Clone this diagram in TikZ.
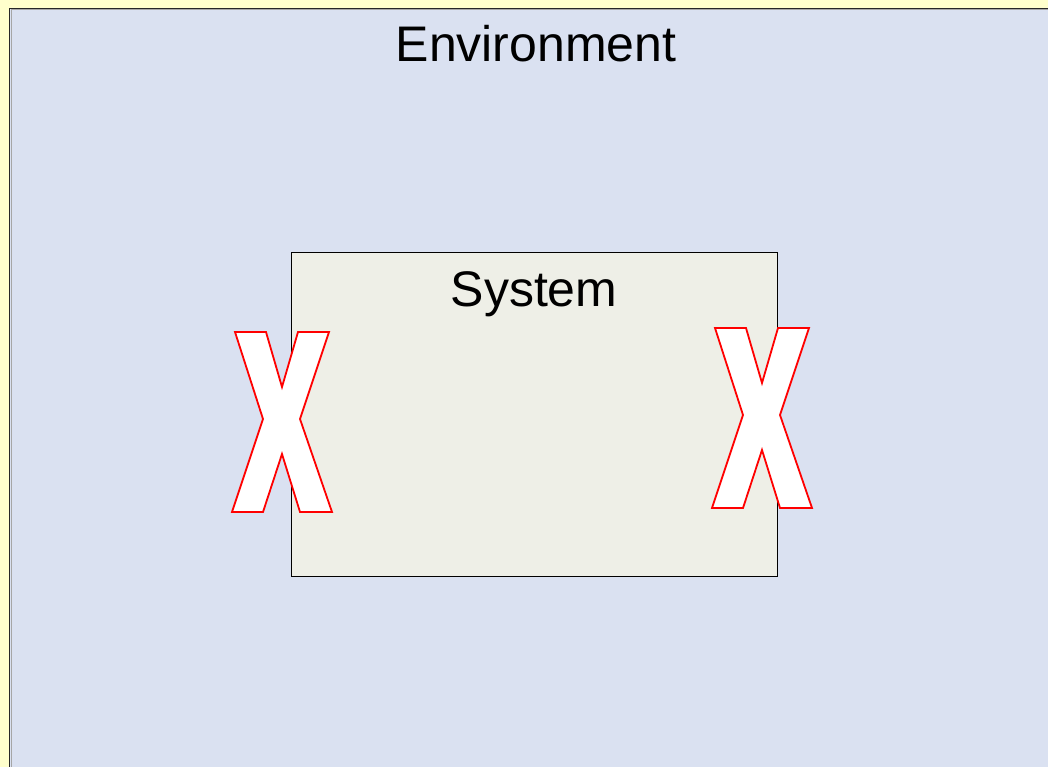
\documentclass[tikz,border=0pt]{standalone}
\usepackage{fontspec}
\setmainfont{Liberation Sans}
\definecolor{bgyellow}{RGB}{255,255,204}
\definecolor{envfill}{RGB}{218,225,241}
\definecolor{sysfill}{RGB}{238,239,231}
\tikzset{
  envbox/.style={draw=black!85, line width=1.2pt, fill=envfill},
  sysbox/.style={draw=black, line width=0.8pt, fill=sysfill},
  bigx/.style={draw=red, line width=1.8pt, fill=white, line join=miter},
  label/.style={font=\fontsize{50}{60}\selectfont, inner sep=0pt, anchor=base}
}
\begin{document}
\begin{tikzpicture}[x=1pt,y=-1pt]
\useasboundingbox (0,0) rectangle (1048,767);
\fill[bgyellow] (0,0) rectangle (1048,767);
\begin{scope}
\clip (0,0) rectangle (1048,767);
\draw[envbox] (9.5,8.5) rectangle (1070,790);
\draw[gray!70, line width=1pt] (11,10) -- (1070,10);
\draw[gray!70, line width=1pt] (11,10) -- (11,790);
\end{scope}
\node[label] (env) at (536,62) {Environment};
\node[sysbox, minimum width=486pt, minimum height=324pt, anchor=north west, inner sep=0pt] (sys) at (291,252) {};
\node[label] (syslabel) at (534,306) {System};
\draw[bigx] (235,332) -- (266,332) -- (282,387) -- (298,332) -- (329,332) -- (300,419) -- (332,512) -- (300,512) -- (282,454) -- (263,512) -- (232,512) -- (263,419) -- cycle;
\begin{scope}[shift={(480,-4)}]
\draw[bigx] (235,332) -- (266,332) -- (282,387) -- (298,332) -- (329,332) -- (300,419) -- (332,512) -- (300,512) -- (282,454) -- (263,512) -- (232,512) -- (263,419) -- cycle;
\end{scope}
\end{tikzpicture}
\end{document}
